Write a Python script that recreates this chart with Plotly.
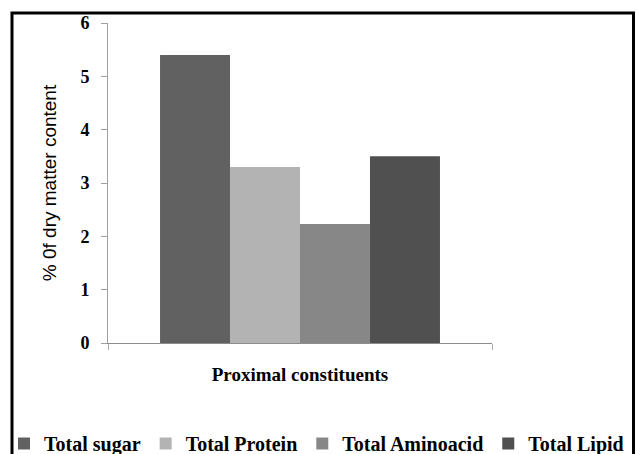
import plotly.graph_objects as go

# ---- data ----
categories = ["Proximal constituents"]
series_names = ["Total sugar", "Total Protein", "Total Aminoacid", "Total Lipid"]
series_values = [5.4, 3.3, 2.23, 3.5]
series_colors = ["#616161", "#b3b3b3", "#878787", "#505050"]
y_tick_vals = [0, 1, 2, 3, 4, 5, 6]
y_title = "% 0f dry matter content"
x_title = "Proximal constituents"

W, H = 636, 454
ML, MR, MT, MB = 4, 4, 23, 111
PW, PH = W - ML - MR, H - MT - MB
AX_L, AX_R = 108, 492  # pixel extent of the x axis


def px_x(p):
    return (p - ML) / PW


def px_y(p):
    return (H - MB - p) / PH


fig = go.Figure()
for name, val, col in zip(series_names, series_values, series_colors):
    fig.add_trace(go.Bar(
        x=categories, y=[val], name=name,
        marker=dict(color=col, line=dict(width=0)),
    ))

serif_bold = dict(family="Liberation Serif", weight="bold", color="#000000")

fig.update_layout(
    width=W, height=H,
    margin=dict(l=ML, r=MR, t=MT, b=MB, pad=0, autoexpand=False),
    paper_bgcolor="white", plot_bgcolor="white",
    barmode="group", bargap=0.271, bargroupgap=0,
    showlegend=True,
    legend=dict(
        orientation="h", xref="paper", yref="container",
        x=0.0, xanchor="left",
        y=1 - 424 / H, yanchor="top",
        font=dict(size=20, **serif_bold),
        itemwidth=30, tracegroupgap=0,
        bgcolor="rgba(0,0,0,0)",
    ),
    xaxis=dict(
        domain=[px_x(AX_L), px_x(AX_R)],
        automargin=False,
        showline=True, linecolor="#8c8c8c", linewidth=1,
        showticklabels=False, ticks="outside", ticklen=6,
        tickcolor="#a8a8a8", tickson="boundaries",
        showgrid=False, zeroline=False,
        title=dict(text=x_title, font=dict(size=19, **serif_bold), standoff=24),
    ),
    yaxis=dict(
        automargin=False,
        range=[0, 6], tickvals=y_tick_vals,
        showline=True, linecolor="#a0a0a0", linewidth=1,
        ticks="outside", ticklen=6, tickcolor="#a0a0a0",
        showgrid=False, zeroline=False,
        tickfont=dict(size=18, **serif_bold),
        ticklabelstandoff=8,
        title=dict(text=y_title, font=dict(family="Liberation Sans", size=19, color="#000000"), standoff=18),
    ),
    shapes=[dict(
        type="rect", xref="paper", yref="paper",
        x0=px_x(12), x1=px_x(633.5), y0=px_y(480), y1=px_y(13),
        line=dict(color="black", width=3), fillcolor="rgba(0,0,0,0)", layer="above",
    )],
)

fig.write_html(
    "out.html",
    config={"displayModeBar": False},
    post_script="document.body.style.margin='0';document.body.style.padding='0';",
)
